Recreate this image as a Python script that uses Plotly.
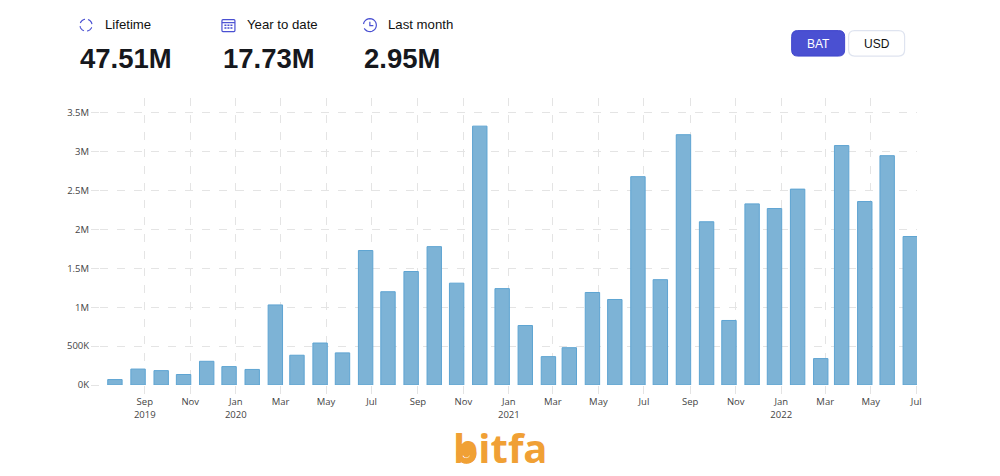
import plotly.graph_objects as go
import math

# one bar per month, the axis is a real time axis
bar_dates = ["2019-07-23", "2019-08-23", "2019-09-23", "2019-10-23", "2019-11-23", "2019-12-23",
             "2020-01-23", "2020-02-23", "2020-03-23", "2020-04-23", "2020-05-23", "2020-06-23",
             "2020-07-23", "2020-08-23", "2020-09-23", "2020-10-23", "2020-11-23", "2020-12-23",
             "2021-01-23", "2021-02-23", "2021-03-23", "2021-04-23", "2021-05-23", "2021-06-23",
             "2021-07-23", "2021-08-23", "2021-09-23", "2021-10-23", "2021-11-23", "2021-12-23",
             "2022-01-23", "2022-02-23", "2022-03-23", "2022-04-23", "2022-05-23", "2022-06-23"]
values = [70000, 205000, 185000, 135000, 305000,
          237000, 200000, 1030000, 383000, 540000, 413000, 1730000,
          1200000, 1460000, 1780000, 1310000, 3330000,
          1240000, 765000, 365000, 480000, 1190000, 1100000, 2680000,
          1355000, 3220000, 2100000, 830000, 2330000,
          2270000, 2520000, 340000, 3080000, 2360000, 2950000, 1910000]

x_tick_dates = ["2019-09-01", "2019-11-01", "2020-01-01", "2020-03-01", "2020-05-01", "2020-07-01",
                "2020-09-01", "2020-11-01", "2021-01-01", "2021-03-01", "2021-05-01", "2021-07-01",
                "2021-09-01", "2021-11-01", "2022-01-01", "2022-03-01", "2022-05-01", "2022-07-01"]
x_tick_text = ["Sep<br>2019", "Nov", "Jan<br>2020", "Mar", "May", "Jul",
               "Sep", "Nov", "Jan<br>2021", "Mar", "May", "Jul",
               "Sep", "Nov", "Jan<br>2022", "Mar", "May", "Jul"]
y_tick_vals = [0, 500000, 1000000, 1500000, 2000000, 2500000, 3000000, 3500000]
y_tick_text = ["0K", "500K", "1M", "1.5M", "2M", "2.5M", "3M", "3.5M"]

stat_labels = ["Lifetime", "Year to date", "Last month"]
stat_values = ["47.51M", "17.73M", "2.95M"]
button_labels = ["BAT", "USD"]

W, H = 1000, 476
L, R, T, B = 100, 917.4, 98, 385.5
BAR_DAYS = 19.3
GRID = "#e4e4e4"
INDIGO = "#4a50d2"
ORANGE = "#f0a035"


def px(x):
    return (x - L) / (R - L)


def py(y):
    return (B - y) / (B - T)


def rrect(x0, y0, x1, y1, r):
    a, b, c, d = px(x0), py(y0), px(x1), py(y1)
    rx, ry = r / (R - L), r / (B - T)
    return (f"M {a+rx} {b} L {c-rx} {b} Q {c} {b} {c} {b-ry} L {c} {d+ry} Q {c} {d} {c-rx} {d} "
            f"L {a+rx} {d} Q {a} {d} {a} {d+ry} L {a} {b-ry} Q {a} {b} {a+rx} {b} Z")


def arc_path(cx, cy, r, a0, a1, n=12):
    pts = []
    for i in range(n + 1):
        t = math.radians(a0 + (a1 - a0) * i / n)
        pts.append((px(cx + r * math.cos(t)), py(cy + r * math.sin(t))))
    return "M " + " L ".join(f"{p[0]} {p[1]}" for p in pts)


def add_path(path, **kw):
    shapes.append(dict(type="path", xref="paper", yref="paper", path=path, **kw))


fig = go.Figure()
fig.add_trace(go.Bar(
    x=bar_dates,
    y=values,
    width=BAR_DAYS * 86400000,
    marker=dict(color="#7db3d6", line=dict(color="#5ea4d2", width=1)),
))

shapes = []
annotations = []


def add_text(x, y, text, size, color="#111", bold=False, family="Liberation Sans", anchor="left"):
    annotations.append(dict(
        xref="paper", yref="paper", x=px(x), y=py(y), text=f"<b>{text}</b>" if bold else text,
        showarrow=False, xanchor=anchor, yanchor="middle",
        font=dict(size=size, color=color, family=family),
    ))


for label, value, lx, vx in zip(stat_labels, stat_values, [103, 245, 386.5], [78, 221, 362]):
    add_text(lx, 24.5, label, 13.2)
    add_text(vx, 58.5, value, 27.5, color="#16181d", bold=True)

line = dict(color=INDIGO, width=1.2)
# Lifetime icon: broken circle
for a0, a1 in [(20, 80), (110, 170), (200, 260), (290, 350)]:
    add_path(arc_path(86, 25, 6, a0, a1), line=line)
# Year to date icon: calendar
add_path(rrect(222, 19.5, 235, 31.5, 1), line=line)
add_path(f"M {px(222)} {py(22.5)} L {px(235)} {py(22.5)}", line=line)
for dy in [25, 28]:
    add_path(f"M {px(224.5)} {py(dy)} L {px(233)} {py(dy)}", line=dict(color=INDIGO, width=1.5, dash="2px,1px"))
# Last month icon: clock with a back arrow
add_path(arc_path(370, 25, 6.5, -170, 150, 20), line=line)
add_path(f"M {px(370)} {py(21.5)} L {px(370)} {py(25.5)} L {px(373.5)} {py(25.5)}", line=line)

# BAT / USD buttons
add_path(rrect(792, 30.5, 845, 56, 6), fillcolor=INDIGO, line=dict(color="#3f45cc", width=1))
add_path(rrect(849, 30.5, 905, 56, 6), fillcolor="white", line=dict(color="#dfe4f0", width=1.2))
add_text(818.5, 43.5, button_labels[0], 12, color="white", anchor="center")
add_text(877, 43.5, button_labels[1], 12, color="#111", anchor="center")

# bitfa logo: filled bowl with a smile under the text
add_path(arc_path(466.5, 454.5, 9.5, 0, 360, 30) + " Z", fillcolor=ORANGE, line=dict(color=ORANGE, width=1))
add_path(arc_path(466.5, 455, 4, 20, 160), line=dict(color="white", width=1.6))
add_text(500.5, 448.5, "bitfa", 40, color=ORANGE, bold=True, family="Open Sans", anchor="center")

fig.update_layout(
    width=W, height=H,
    margin=dict(l=L, r=W - R, t=T, b=H - B, pad=0),
    paper_bgcolor="white",
    plot_bgcolor="white",
    showlegend=False,
    shapes=shapes,
    annotations=annotations,
    font=dict(family="Open Sans", size=9.5, color="#444"),
    xaxis=dict(
        type="date",
        range=["2019-07-03", "2022-07-02"],
        tickmode="array", tickvals=x_tick_dates, ticktext=x_tick_text, tickangle=0,
        showgrid=True, gridcolor=GRID, griddash="8px,9px", gridwidth=1,
        ticks="outside", ticklen=8, tickcolor=GRID, tickwidth=1,
        zeroline=False, showline=False,
    ),
    yaxis=dict(
        range=[0, 3692000],
        tickmode="array", tickvals=y_tick_vals, ticktext=y_tick_text,
        showgrid=True, gridcolor=GRID, griddash="8px,9px", gridwidth=1,
        ticks="outside", ticklen=8, tickcolor=GRID, tickwidth=1,
        zeroline=False, showline=False,
    ),
)

fig.write_html("out.html", config={"displayModeBar": False},
               post_script="document.body.style.margin='0';")
